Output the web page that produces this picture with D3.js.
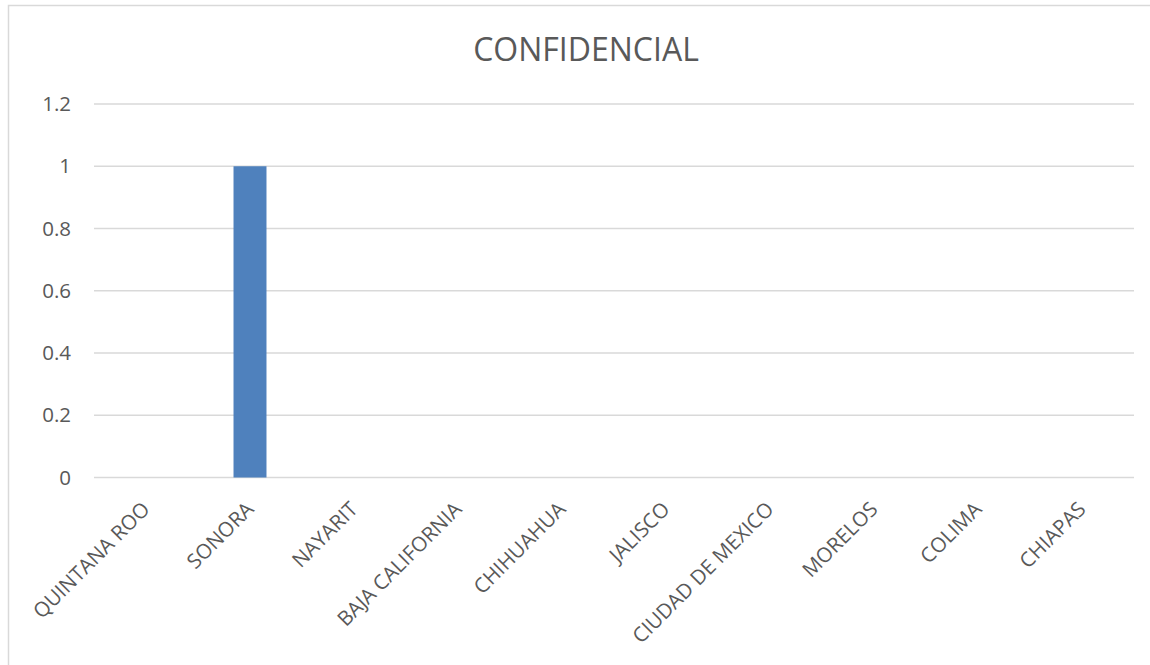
<!DOCTYPE html>
<html>
<head>
<meta charset="utf-8">
<script src="https://cdn.jsdelivr.net/npm/d3@7"></script>
<style>
  html, body { margin: 0; padding: 0; background: #fff; }
  svg { display: block; }
  text { font-family: "Open Sans", Lato, sans-serif; fill: #595959; }
</style>
</head>
<body>
<svg id="chart" width="1150" height="665"></svg>
<script>
const title = "CONFIDENCIAL";
const categories = ["QUINTANA ROO", "SONORA", "NAYARIT", "BAJA CALIFORNIA", "CHIHUAHUA", "JALISCO", "CIUDAD DE MEXICO", "MORELOS", "COLIMA", "CHIAPAS"];
const values = [0, 1, 0, 0, 0, 0, 0, 0, 0, 0];
const yTicks = [0, 0.2, 0.4, 0.6, 0.8, 1, 1.2];

const svg = d3.select("#chart");
const W = 1150, H = 665;
const margin = { left: 94, right: 16, top: 104, bottom: 188 };
const FONT = "'Open Sans', Lato, sans-serif";

svg.append("rect")
  .attr("x", 8.5).attr("y", 5.5)
  .attr("width", W).attr("height", H)
  .attr("fill", "#fff").attr("stroke", "#d9d9d9").attr("stroke-width", 1.5);

const x = d3.scaleBand().domain(categories).range([margin.left, W - margin.right]).paddingInner(0.683).paddingOuter(0.3415);
const y = d3.scaleLinear().domain([0, 1.2]).range([H - margin.bottom + 0.5, margin.top]);

// gridlines
svg.append("g").selectAll("line").data(yTicks).join("line")
  .attr("x1", margin.left).attr("x2", W - margin.right)
  .attr("y1", d => y(d)).attr("y2", d => y(d))
  .attr("stroke", "#d9d9d9").attr("stroke-width", 1.5);

// y axis labels
const yAxis = d3.axisLeft(y).tickValues(yTicks).tickFormat(d3.format("")).tickSize(0).tickPadding(23);
const gy = svg.append("g").attr("transform", `translate(${margin.left},0)`).call(yAxis);
gy.select(".domain").remove();
gy.selectAll("text").style("font-size", "20.5px").style("font-family", FONT).attr("fill", "#595959");

// bars
svg.append("g").selectAll("rect").data(values).join("rect")
  .attr("x", (d, i) => x(categories[i]))
  .attr("width", x.bandwidth())
  .attr("y", d => y(d))
  .attr("height", d => y(0) - y(d))
  .attr("fill", "#4f81bd");

// x axis labels
const xc = d3.scaleBand().domain(categories).range([margin.left, W - margin.right]);
const xAxis = d3.axisBottom(xc).tickSize(0).tickPadding(0);
const gx = svg.append("g").attr("transform", `translate(0,${y(0)})`).call(xAxis);
gx.select(".domain").remove();
gx.selectAll("text")
  .style("font-size", "20.5px").style("font-family", FONT).attr("fill", "#595959")
  .attr("text-anchor", "end")
  .attr("dy", null).attr("y", 0)
  .attr("transform", "translate(5,33) rotate(-45)");

// title
svg.append("text").attr("x", 586).attr("y", 61)
  .attr("text-anchor", "middle").style("font-size", "32px").style("font-family", FONT).text(title);
</script>
</body>
</html>
